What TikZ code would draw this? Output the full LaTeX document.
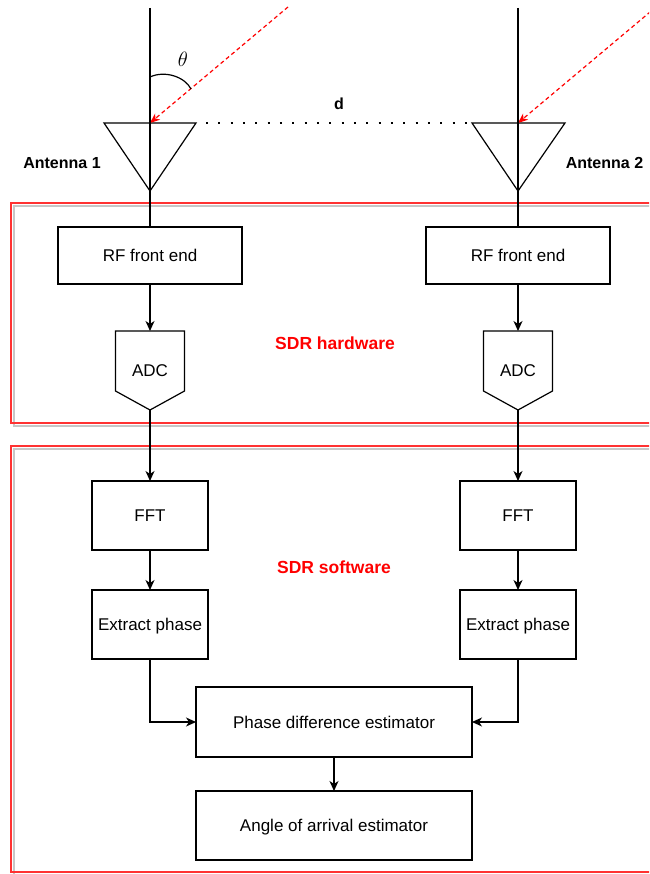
\documentclass[tikz,border=0pt]{standalone}
\usepackage{fontspec}
\setmainfont{Liberation Sans}
\usetikzlibrary{arrows.meta,calc}
\begin{document}
\begin{tikzpicture}[x=1pt,y=-1pt,
  line width=1.2pt,
  blk/.style={draw=black, line width=1.2pt, inner sep=0pt, outer sep=0pt, text height=12.2pt, text depth=0pt, font=\fontsize{17}{20}\selectfont},
  arr/.style={line width=1.2pt, -{Stealth[length=10pt,width=9pt,inset=3pt]}},
  ray/.style={draw=red, line width=1.2pt, dash pattern=on 4pt off 3pt, -{Stealth[length=10pt,width=8pt,inset=3pt]}},
  lbl/.style={font=\fontsize{16}{19}\selectfont\bfseries, inner sep=0pt},
  grp/.style={font=\fontsize{17.5}{20}\selectfont\bfseries, inner sep=0pt, text=red},
  redbox/.style={draw={rgb,255:red,255;green,50;blue,50}, line width=1.6pt},
  shadowbox/.style={draw=black!22, line width=1.6pt}
]
\useasboundingbox (0,0) rectangle (649,874);
\clip (0,0) rectangle (649,874);

% red group boxes with shadows
\draw[shadowbox] (14,206) rectangle (703,426);
\draw[redbox] (11,203) rectangle (700,423);
\draw[shadowbox] (14,449) rectangle (703,875);
\draw[redbox] (11,446) rectangle (700,872);
\node[grp] (hw) at (335,343) {SDR hardware};
\node[grp] (sw) at (334,567) {SDR software};

% antennas
\coordinate (top1) at (150,8);
\coordinate (ant1) at (150,123);
\coordinate (tip1) at (150,191);
\coordinate (top2) at (518,8);
\coordinate (ant2) at (518,123);
\coordinate (tip2) at (518,191);
\draw (104,123) -- (196,123) -- (tip1) -- cycle;
\draw (472,123) -- (565,123) -- (tip2) -- cycle;
\node[lbl] (a1) at (62,163) {Antenna 1};
\node[lbl] (a2) at (604.5,163) {Antenna 2};

% distance
\coordinate (d1) at (206,123);
\coordinate (d2) at (468,123);
\draw[line width=2pt, dash pattern=on 2pt off 10.33pt] (d1) -- (d2);
\node[lbl] (dl) at (339,104) {d};

% incoming rays
\coordinate (src1) at (288,7);
\coordinate (src2) at (656,7);
\draw[ray] (src1) -- (ant1);
\draw[ray] (src2) -- (ant2);

% theta
\coordinate (th1) at (150,77);
\coordinate (th2) at (191,89);
\draw (th1) .. controls (165,70) and (185,77) .. (th2);
\node[inner sep=0pt, font=\fontsize{22}{24}\selectfont] (th) at (183,59) {$\theta$};

% blocks
\node[blk, minimum width=184pt, minimum height=57pt] (rf1) at (150,255.5) {RF front end};
\node[blk, minimum width=184pt, minimum height=57pt] (rf2) at (518,255.5) {RF front end};

\node[inner sep=0pt, outer sep=0pt, minimum width=69pt, minimum height=60pt] (adc1) at (150,361) {};
\node[inner sep=0pt, outer sep=0pt, minimum width=69pt, minimum height=60pt] (adc2) at (518,361) {};
\coordinate (adc1tip) at ($(adc1.south)+(0,19)$);
\coordinate (adc2tip) at ($(adc2.south)+(0,19)$);
\draw (adc1.south west) -- (adc1.north west) -- (adc1.north east) -- (adc1.south east) -- (adc1tip) -- cycle;
\draw (adc2.south west) -- (adc2.north west) -- (adc2.north east) -- (adc2.south east) -- (adc2tip) -- cycle;
\node[font=\fontsize{17}{20}\selectfont, inner sep=0pt, text height=12.2pt, text depth=0pt] (adc1l) at (150,370) {ADC};
\node[font=\fontsize{17}{20}\selectfont, inner sep=0pt, text height=12.2pt, text depth=0pt] (adc2l) at (518,370) {ADC};

\node[blk, minimum width=116pt, minimum height=69pt] (fft1) at (150,515.5) {FFT};
\node[blk, minimum width=116pt, minimum height=69pt] (fft2) at (518,515.5) {FFT};
\node[blk, minimum width=116pt, minimum height=69pt] (ext1) at (150,624.5) {Extract phase};
\node[blk, minimum width=116pt, minimum height=69pt] (ext2) at (518,624.5) {Extract phase};
\node[blk, minimum width=276pt, minimum height=70pt] (pde) at (334,722) {Phase difference estimator};
\node[blk, minimum width=276pt, minimum height=69pt] (aoa) at (334,825.5) {Angle of arrival estimator};

% connectors
\draw (top1) -- (rf1.north);
\draw (top2) -- (rf2.north);
\draw[arr] (rf1.south) -- (adc1.north);
\draw[arr] (rf2.south) -- (adc2.north);
\draw[arr] (adc1tip) -- (fft1.north);
\draw[arr] (adc2tip) -- (fft2.north);
\draw[arr] (fft1.south) -- (ext1.north);
\draw[arr] (fft2.south) -- (ext2.north);
\draw[arr] (ext1.south) |- (pde.west);
\draw[arr] (ext2.south) |- (pde.east);
\draw[arr] (pde.south) -- (aoa.north);
\end{tikzpicture}
\end{document}
